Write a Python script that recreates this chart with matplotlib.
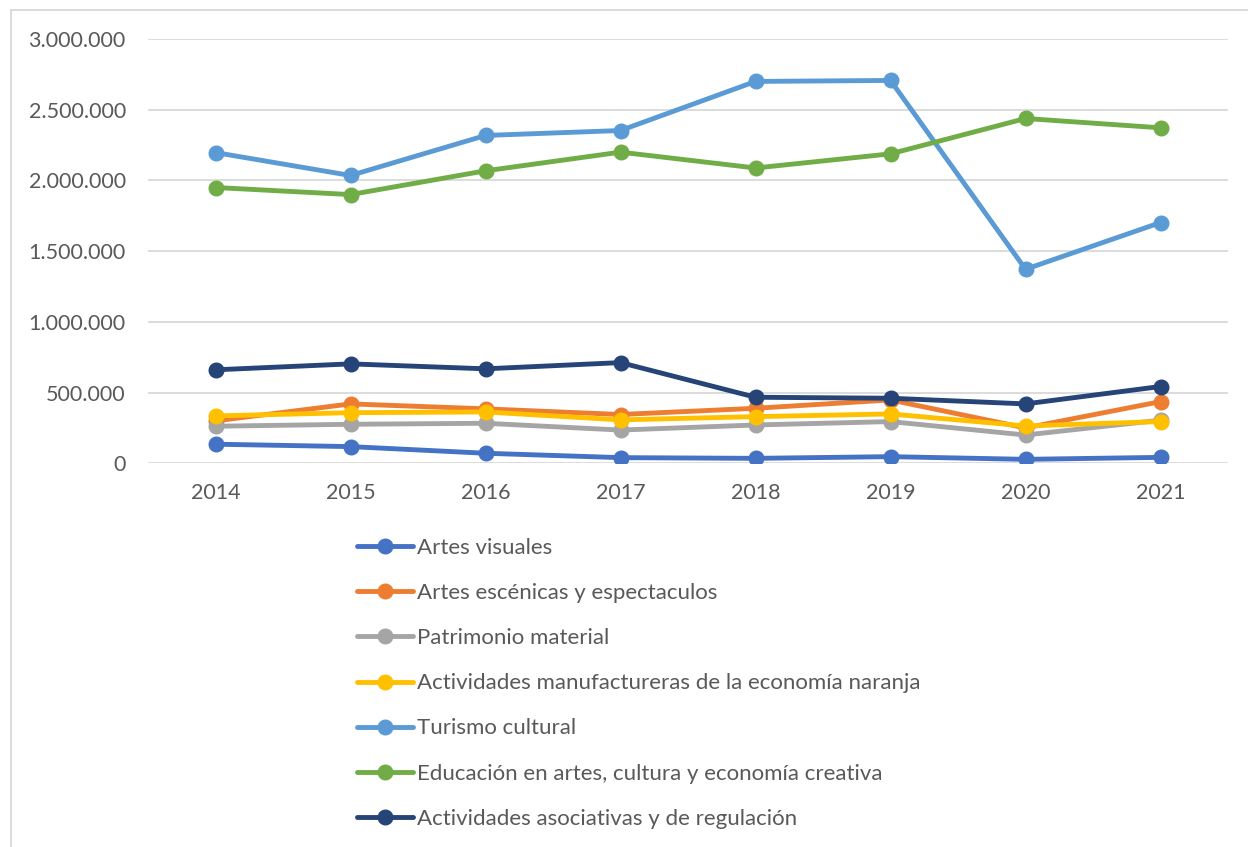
import matplotlib
matplotlib.use('Agg')
import matplotlib.pyplot as plt
from matplotlib.ticker import FuncFormatter, MultipleLocator

plt.rcParams['font.family'] = ['Lato', 'DejaVu Sans']

years = ['2014', '2015', '2016', '2017', '2018', '2019', '2020', '2021']

artes_visuales = [135000, 118000, 71000, 40000, 35000, 47000, 28000, 42000]
artes_escenicas = [300000, 420000, 385000, 345000, 389000, 448000, 250000, 436000]
patrimonio = [262000, 276000, 283000, 235000, 271000, 295000, 200000, 305000]
manufactureras = [335000, 358000, 363000, 307000, 330000, 349000, 264000, 295000]
turismo = [2197000, 2035000, 2318000, 2353000, 2700000, 2707000, 1372000, 1702000]
educacion = [1950000, 1900000, 2068000, 2200000, 2088000, 2188000, 2438000, 2372000]
asociativas = [661000, 703000, 668000, 712000, 467000, 460000, 420000, 543000]

series = [
    ('Artes visuales', artes_visuales, '#4472C4'),
    ('Artes escénicas y espectaculos', artes_escenicas, '#ED7D31'),
    ('Patrimonio material', patrimonio, '#A5A5A5'),
    ('Actividades manufactureras de la economía naranja', manufactureras, '#FFC000'),
    ('Turismo cultural', turismo, '#5B9BD5'),
    ('Educación en artes, cultura y economía creativa', educacion, '#70AD47'),
    ('Actividades asociativas y de regulación', asociativas, '#264478'),
]

fig = plt.figure(figsize=(12.48, 8.47), dpi=100)
ax = fig.add_axes([148 / 1248, 1 - 463.3 / 847, 1080 / 1248, (463.3 - 39) / 847])

x = range(len(years))
for i, (label, vals, color) in enumerate(series):
    ax.plot(x, vals, color=color, lw=3.5, marker='o', ms=10.5,
            label=label, zorder=3 + i, solid_capstyle='round')

ax.set_xlim(-0.5, len(years) - 0.5)
ax.set_ylim(0, 3000000)
ax.set_xticks(list(x))
ax.set_xticklabels(years)
ax.yaxis.set_major_locator(MultipleLocator(500000))
ax.yaxis.set_major_formatter(FuncFormatter(lambda v, p: f'{int(v):,}'.replace(',', '.')))
ax.grid(axis='y', color='#D9D9D9', lw=1.3, zorder=0)
for s in ax.spines.values():
    s.set_visible(False)
ax.tick_params(axis='both', length=0, labelsize=15.5, labelcolor='#595959')
ax.tick_params(axis='y', pad=16)
ax.tick_params(axis='x', pad=14)

fig.legend(loc='upper left', bbox_to_anchor=(357 / 1248, 1 - 538 / 847),
           frameon=False, fontsize=16, labelcolor='#595959',
           handlelength=2.5, handletextpad=0.2, labelspacing=1.13,
           borderaxespad=0, borderpad=0)

# outer chart border (left and top visible)
fig.add_artist(plt.Line2D([11 / 1248, 11 / 1248], [0, 1 - 10 / 847],
                          transform=fig.transFigure, color='#D9D9D9', lw=1.3))
fig.add_artist(plt.Line2D([11 / 1248, 1], [1 - 10 / 847, 1 - 10 / 847],
                          transform=fig.transFigure, color='#D9D9D9', lw=1.3))

fig.savefig('out.png', dpi=100)
